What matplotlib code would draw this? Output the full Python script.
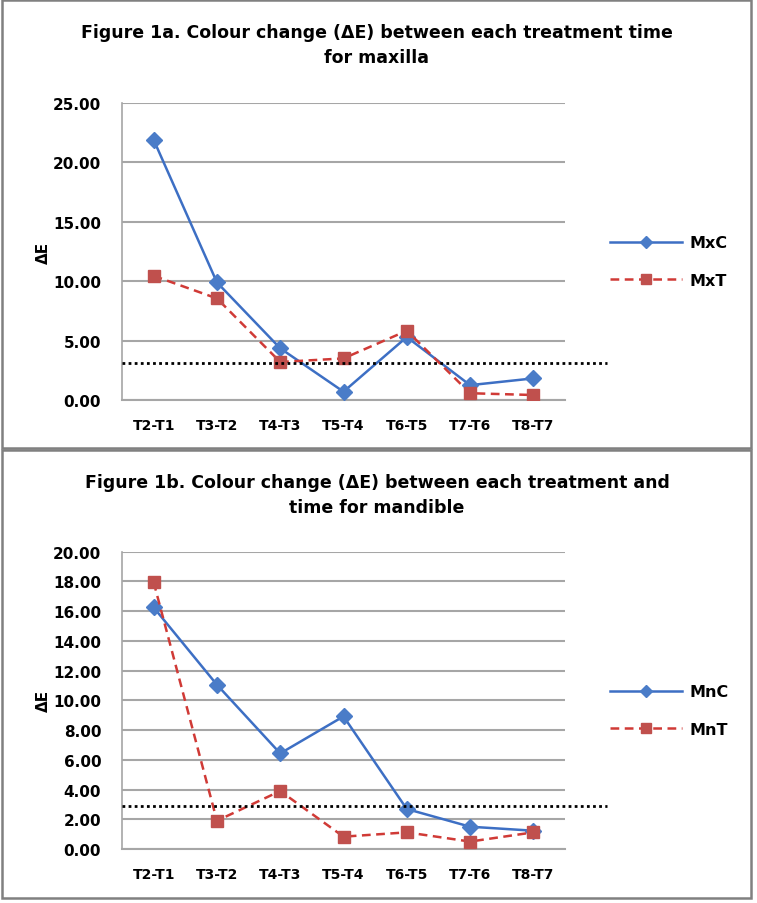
import matplotlib
matplotlib.use("Agg")
import matplotlib.pyplot as plt
from matplotlib.patches import Rectangle
import matplotlib.transforms as mtransforms

categories = ["T2-T1", "T3-T2", "T4-T3", "T5-T4", "T6-T5", "T7-T6", "T8-T7"]

mxc = [21.9, 9.9, 4.35, 0.7, 5.3, 1.25, 1.82]
mxt = [10.45, 8.55, 3.2, 3.5, 5.83, 0.57, 0.42]
max_threshold = 3.15

mnc = [16.25, 11.05, 6.43, 8.92, 2.69, 1.5, 1.23]
mnt = [17.95, 1.9, 3.9, 0.83, 1.12, 0.5, 1.12]
man_threshold = 2.9

title_a = "Figure 1a. Colour change (\u0394E) between each treatment time\nfor maxilla"
title_b = "Figure 1b. Colour change (\u0394E) between each treatment and\ntime for mandible"

W, H = 757, 904
fig = plt.figure(figsize=(W / 100, H / 100), dpi=100)
fig.patch.set_facecolor("white")

FONT = "DejaVu Sans"
BLUE = "#3D6FC4"
MBLUE = "#4A7CC8"
RED = "#D03A36"
MRED = "#C0504D"
GRID = "#A6A6A6"


def px_rect(l, t, r, b):
    return [l / W, 1 - b / H, (r - l) / W, (b - t) / H]


# panel borders
for (l, t, r, b) in [(2, 1, 751, 449), (2, 451, 751, 899)]:
    fig.add_artist(Rectangle((l / W, 1 - b / H), (r - l) / W, (b - t) / H,
                             transform=fig.transFigure, fill=False,
                             edgecolor="#808080", linewidth=1.8))


def draw(ax_rect, c_vals, t_vals, thr, ymax, ystep, names, title, title_y):
    ax = fig.add_axes(ax_rect)
    x = list(range(len(categories)))
    ax.plot(x, c_vals, color=BLUE, lw=1.8, marker="D", markersize=8,
            markerfacecolor=MBLUE, markeredgecolor=MBLUE, label=names[0], zorder=4)
    ax.plot(x, t_vals, color=RED, lw=1.8, ls=(0, (3.5, 2.2)), marker="s",
            markersize=9, markerfacecolor=MRED, markeredgecolor=MRED,
            label=names[1], zorder=5)
    ax.set_xlim(-0.5, len(categories) - 0.5)
    ax.set_ylim(0, ymax)
    ticks = [i * ystep for i in range(int(round(ymax / ystep)) + 1)]
    ax.set_yticks(ticks)
    ax.set_yticklabels([f"{v:.2f}" for v in ticks], fontsize=11,
                       fontweight="bold", family=FONT)
    ax.set_xticks(x)
    ax.set_xticklabels(categories, fontsize=10, fontweight="bold", family=FONT)
    ax.tick_params(axis="x", length=0, pad=13)
    ax.tick_params(axis="y", length=0, pad=15)
    ax.grid(axis="y", color=GRID, lw=1.5)
    ax.set_axisbelow(True)
    for s in ["top", "right"]:
        ax.spines[s].set_visible(False)
    ax.spines["left"].set_color(GRID)
    ax.spines["bottom"].set_color(GRID)
    ax.spines["left"].set_linewidth(1.2)
    ax.spines["bottom"].set_linewidth(1.5)
    ax.set_ylabel("\u0394E", fontsize=11, fontweight="bold", family=FONT)
    ax.yaxis.set_label_coords(-0.16, 0.5)
    trans = mtransforms.blended_transform_factory(ax.transAxes, ax.transData)
    ax.plot([0, 1.095], [thr, thr], transform=trans, color="black", lw=2.0,
            ls=(0, (1, 1.2)), clip_on=False, zorder=6)
    leg = ax.legend(loc="center left", bbox_to_anchor=(1.07, 0.466), frameon=False,
                    handlelength=4.5, handletextpad=0.45, labelspacing=1.4,
                    prop={"family": FONT, "weight": "bold", "size": 11.5})
    for h in leg.legend_handles:
        h.set_markersize(6.5)
    fig.text(377 / W, 1 - title_y / H, title, ha="center", va="top",
             fontsize=12.5, fontweight="bold", family=FONT, linespacing=1.5)
    return ax


draw(px_rect(122, 104, 565, 401), mxc, mxt, max_threshold, 25, 5,
     ["MxC", "MxT"], title_a, 24)
draw(px_rect(122, 552.7, 565, 850), mnc, mnt, man_threshold, 20, 2,
     ["MnC", "MnT"], title_b, 474)

fig.savefig("out.png", dpi=100, facecolor="white")
